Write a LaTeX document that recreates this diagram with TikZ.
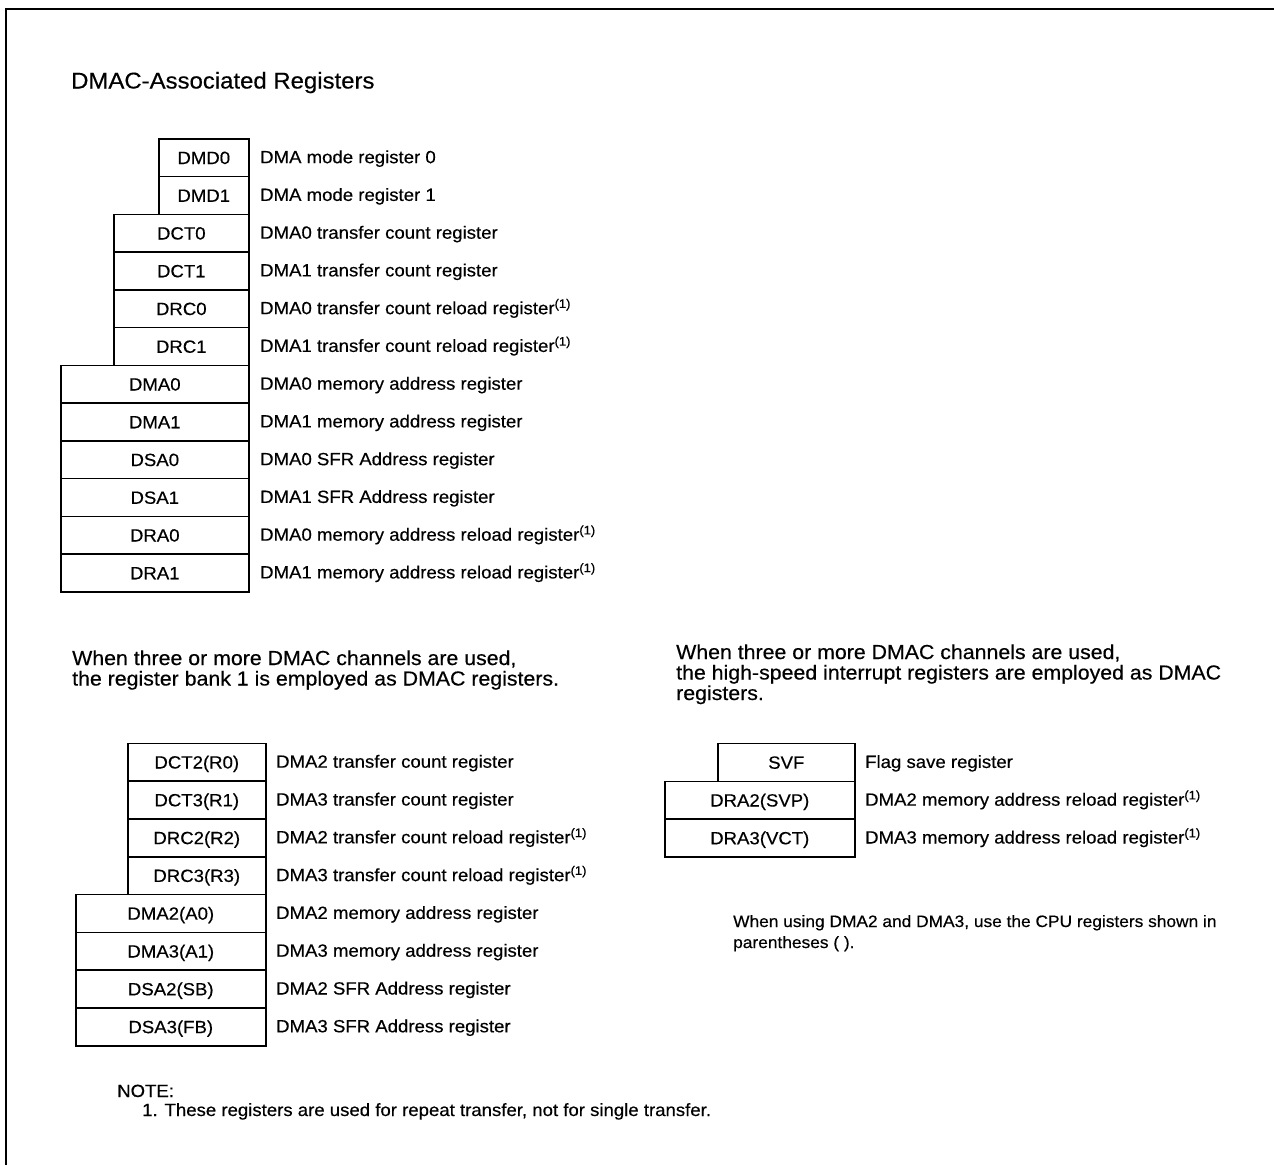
\documentclass[tikz,border=0pt]{standalone}
\usepackage{fontspec}
\setmainfont{Liberation Sans}[FakeStretch=1.05,FakeBold=0.4]
\newcommand{\lblfont}{\fontsize{17.7}{20}\selectfont}
\newcommand{\ttlfont}{\fontsize{22.8}{26}\selectfont}
\newcommand{\parfont}{\fontsize{20.3}{21}\selectfont}
\newcommand{\smlfont}{\fontsize{16.5}{21}\selectfont}
\newcommand{\rep}{\textsuperscript{(1)}}
\tikzset{
  reg/.style={draw, line width=1.6, inner sep=0, minimum height=37.8,
    text height=12.6, text depth=0, font=\lblfont, anchor=north west},
  desc/.style={anchor=west, inner sep=0, text height=12.6, text depth=0, font=\lblfont},
  txt/.style={anchor=base west, inner sep=0},
  frame/.style={line width=1.8}
}
\begin{document}
\begin{tikzpicture}[x=1pt,y=-1pt]
\useasboundingbox (0,0) rectangle (1274,1165);
% frame (top and left edges)
\coordinate (fc) at (6,9);
\coordinate (fr) at (1274,9);
\coordinate (fb) at (6,1165);
\draw[frame] (fr) -- (fc) -- (fb);

\node[txt, font=\ttlfont] (title) at (71,88.5) {DMAC-Associated Registers};

% ---- top group ----
\node[reg, minimum width=90]  (dmd0) at (158,138.00) {DMD0};
\node[reg, minimum width=90]  (dmd1) at (158,175.75) {DMD1};
\node[reg, minimum width=135] (dct0) at (113,213.50) {DCT0};
\node[reg, minimum width=135] (dct1) at (113,251.25) {DCT1};
\node[reg, minimum width=135] (drc0) at (113,289.00) {DRC0};
\node[reg, minimum width=135] (drc1) at (113,326.75) {DRC1};
\node[reg, minimum width=188] (dma0) at (60,364.50) {DMA0};
\node[reg, minimum width=188] (dma1) at (60,402.25) {DMA1};
\node[reg, minimum width=188] (dsa0) at (60,440.00) {DSA0};
\node[reg, minimum width=188] (dsa1) at (60,477.75) {DSA1};
\node[reg, minimum width=188] (dra0) at (60,515.50) {DRA0};
\node[reg, minimum width=188] (dra1) at (60,553.25) {DRA1};

\node[desc] (tdmd0) at (260,156.9) {DMA mode register 0};
\node[desc] (tdmd1) at (260,194.6) {DMA mode register 1};
\node[desc] (tdct0) at (260,232.4) {DMA0 transfer count register};
\node[desc] (tdct1) at (260,270.1) {DMA1 transfer count register};
\node[desc] (tdrc0) at (260,307.9) {DMA0 transfer count reload register\rep};
\node[desc] (tdrc1) at (260,345.6) {DMA1 transfer count reload register\rep};
\node[desc] (tdma0) at (260,383.4) {DMA0 memory address register};
\node[desc] (tdma1) at (260,421.1) {DMA1 memory address register};
\node[desc] (tdsa0) at (260,458.9) {DMA0 SFR Address register};
\node[desc] (tdsa1) at (260,496.6) {DMA1 SFR Address register};
\node[desc] (tdra0) at (260,534.4) {DMA0 memory address reload register\rep};
\node[desc] (tdra1) at (260,572.1) {DMA1 memory address reload register\rep};

% ---- paragraphs ----
\node[txt, font=\parfont] (pla) at (72,665) {When three or more DMAC channels are used,};
\node[txt, font=\parfont] (plb) at (72,685.5) {the register bank 1 is employed as DMAC registers.};
\node[txt, font=\parfont] (pra) at (676,659) {When three or more DMAC channels are used,};
\node[txt, font=\parfont] (prb) at (676,679.5) {the high-speed interrupt registers are employed as DMAC};
\node[txt, font=\parfont] (prc) at (676,700) {registers.};

% ---- bottom-left group ----
\node[reg, minimum width=138] (dct2) at (127,742.5) {DCT2(R0)};
\node[reg, minimum width=138] (dct3) at (127,780.3) {DCT3(R1)};
\node[reg, minimum width=138] (drc2) at (127,818.1) {DRC2(R2)};
\node[reg, minimum width=138] (drc3) at (127,855.9) {DRC3(R3)};
\node[reg, minimum width=190] (dma2) at (75,893.7) {DMA2(A0)};
\node[reg, minimum width=190] (dma3) at (75,931.5) {DMA3(A1)};
\node[reg, minimum width=190] (dsa2) at (75,969.3) {DSA2(SB)};
\node[reg, minimum width=190] (dsa3) at (75,1007.1) {DSA3(FB)};

\node[desc] (tdct2) at (276,761.4) {DMA2 transfer count register};
\node[desc] (tdct3) at (276,799.2) {DMA3 transfer count register};
\node[desc] (tdrc2) at (276,837.0) {DMA2 transfer count reload register\rep};
\node[desc] (tdrc3) at (276,874.8) {DMA3 transfer count reload register\rep};
\node[desc] (tdma2) at (276,912.6) {DMA2 memory address register};
\node[desc] (tdma3) at (276,950.4) {DMA3 memory address register};
\node[desc] (tdsa2) at (276,988.2) {DMA2 SFR Address register};
\node[desc] (tdsa3) at (276,1026.0) {DMA3 SFR Address register};

% ---- right group ----
\node[reg, minimum width=137] (svf)  at (717,742.7) {SVF};
\node[reg, minimum width=190] (dra2) at (664,780.5) {DRA2(SVP)};
\node[reg, minimum width=190] (dra3) at (664,818.3) {DRA3(VCT)};

\node[desc] (tsvf)  at (865,761.6) {Flag save register};
\node[desc] (tdra2) at (865,799.4) {DMA2 memory address reload register\rep};
\node[desc] (tdra3) at (865,837.2) {DMA3 memory address reload register\rep};

\node[txt, font=\smlfont] (na) at (733,927) {When using DMA2 and DMA3, use the CPU registers shown in};
\node[txt, font=\smlfont] (nb) at (733,948) {parentheses ( ).};

% ---- note ----
\node[txt, font=\lblfont] (note) at (117,1097) {NOTE:};
\node[txt, font=\lblfont] (note1) at (142,1116) {1. These registers are used for repeat transfer, not for single transfer.};
\end{tikzpicture}
\end{document}
